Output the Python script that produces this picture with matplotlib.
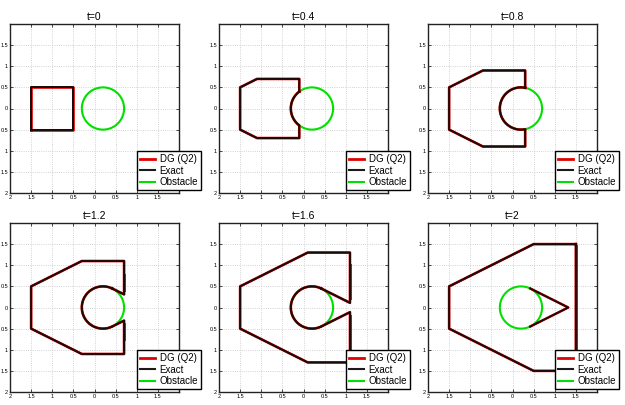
import numpy as np
import matplotlib.pyplot as plt

plt.rcParams['font.family'] = ['Liberation Sans', 'DejaVu Sans']

times = ['0', '0.4', '0.8', '1.2', '1.6', '2']

# obstacle
obs_center = (0.2, 0.0)
obs_radius = 0.5

# exact front: polygon vertices (x, y); if arc flag set, the path is closed
# back to the start by the left arc of the obstacle
front_x = [
    [-1.5, -0.5, -0.5, -1.5, -1.5],
    [-0.1, -0.1, -1.1, -1.5, -1.5, -1.1, -0.1, -0.1],
    [0.3, 0.3, -0.7, -1.5, -1.5, -0.7, 0.3, 0.3],
    [0.42, 0.7, 0.7, -0.3, -1.5, -1.5, -0.3, 0.7, 0.7, 0.42],
    [0.42, 1.1, 1.1, 0.1, -1.5, -1.5, 0.1, 1.1, 1.1, 0.42],
    [1.5, 0.5, -1.5, -1.5, 0.5, 1.5, 1.5],
]
front_y = [
    [-0.5, -0.5, 0.5, 0.5, -0.5],
    [0.4, 0.7, 0.7, 0.5, -0.5, -0.7, -0.7, -0.4],
    [0.49, 0.9, 0.9, 0.5, -0.5, -0.9, -0.9, -0.49],
    [0.45, 0.31, 1.1, 1.1, 0.5, -0.5, -1.1, -1.1, -0.31, -0.45],
    [0.45, 0.11, 1.3, 1.3, 0.5, -0.5, -1.3, -1.3, -0.11, -0.45],
    [1.5, 1.5, 0.5, -0.5, -1.5, -1.5, 1.5],
]
front_arc = [False, True, True, True, True, False]

# shadow behind the obstacle at t=2 (separate piece of the front)
hole_x = [0.42, 1.32, 0.42]
hole_y = [0.45, 0.0, -0.45]

# DG (Q2) smearing along the right edge: (x, y_start, y_end)
dg_smear = [
    [],
    [],
    [],
    [(0.72, 0.4, 0.78), (0.72, -0.4, -0.78)],
    [(1.12, 0.2, 1.0), (1.12, -0.2, -1.1)],
    [(1.52, 1.45, -1.45)],
]

ticks = [-2, -1.5, -1, -0.5, 0, 0.5, 1, 1.5]
tick_labels = ['2', '1.5', '1', '0.5', '0', '0.5', '1', '1.5']

fig = plt.figure(figsize=(6.25, 4.05), dpi=100)
lefts = [10, 219, 428]
bottoms = [212, 13]

theta = np.linspace(0, 2 * np.pi, 200)
cx, cy = obs_center

for i, t in enumerate(times):
    r, c = divmod(i, 3)
    ax = fig.add_axes([lefts[c] / 625, bottoms[r] / 405, 169 / 625, 169 / 405])

    # obstacle
    ax.plot(cx + obs_radius * np.cos(theta), cy + obs_radius * np.sin(theta),
            color='#00e000', lw=1.5, zorder=2)

    px = list(front_x[i])
    py = list(front_y[i])
    if front_arc[i]:
        a0 = np.arctan2(py[-1] - cy, px[-1] - cx) % (2 * np.pi)
        a1 = np.arctan2(py[0] - cy, px[0] - cx)
        a = np.linspace(a0, a1, 80)
        px += list(cx + obs_radius * np.cos(a))
        py += list(cy + obs_radius * np.sin(a))

    ax.plot(px, py, color='#e00000', lw=1.9, zorder=3)
    for sx, y0, y1 in dg_smear[i]:
        ax.plot([sx, sx], [y0, y1], color='#e00000', lw=1.4, zorder=3)
    ax.plot(px, py, color='#1a0a0a', lw=1.4, zorder=4)
    if i == 5:
        ax.plot(hole_x, hole_y, color='#e00000', lw=1.8, zorder=3)
        ax.plot(hole_x, hole_y, color='#1a0a0a', lw=1.3, zorder=4)

    ax.set_xlim(-2, 2)
    ax.set_ylim(-2, 2)
    ax.set_xticks(ticks)
    ax.set_yticks(ticks)
    ax.set_xticklabels(tick_labels)
    ax.set_yticklabels(tick_labels)
    ax.tick_params(direction='in', length=2, width=0.5, labelsize=4, pad=1.5,
                   top=True, right=True)
    ax.grid(True, color='#c4c4c4', ls=':', lw=0.6)
    for s in ax.spines.values():
        s.set_linewidth(1.0)
        s.set_color('#222222')
    ax.set_title('t=' + t, fontsize=7.5, pad=3)

    h1, = ax.plot([], [], color='#e00000', lw=2)
    h2, = ax.plot([], [], color='#1a1a1a', lw=1.5)
    h3, = ax.plot([], [], color='#00e000', lw=1.5)
    leg = ax.legend([h1, h2, h3], ['DG (Q2)', 'Exact', 'Obstacle'],
                    loc='lower right', bbox_to_anchor=(1.13, 0.018),
                    borderaxespad=0, fontsize=7, handlelength=1.55,
                    handletextpad=0.5, labelspacing=0.15, borderpad=0.3,
                    fancybox=False, framealpha=1, edgecolor='black')
    leg.get_frame().set_linewidth(1.0)
    leg.set_zorder(10)

fig.savefig('out.png', dpi=100)
